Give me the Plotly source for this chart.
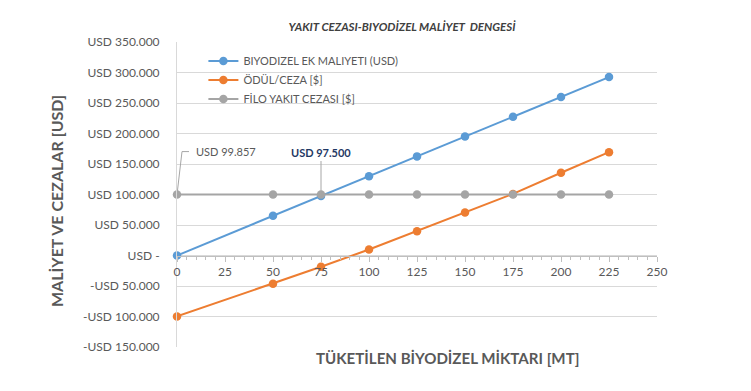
import plotly.graph_objects as go

x_mt = [0, 50, 75, 100, 125, 150, 175, 200, 225]
biyodizel_cost = [0, 65000, 97500, 130000, 162500, 195000, 227500, 260000, 292500]
odul_ceza = [-99857, -46400, -18500, 9800, 39800, 70500, 101000, 135600, 169400]
filo_ceza = [99857] * 9

series_names = ["BIYODIZEL EK MALIYETI (USD)", "ÖDÜL/CEZA [$]", "FİLO YAKIT CEZASI [$]"]
colors = ["#5B9BD5", "#ED7D31", "#A5A5A5"]

y_tickvals = [350000, 300000, 250000, 200000, 150000, 100000, 50000, 0, -50000, -100000, -150000]
y_ticktext = ["USD 350.000", "USD 300.000", "USD 250.000", "USD 200.000", "USD 150.000",
              "USD 100.000", "USD 50.000", "USD -", "-USD 50.000", "-USD 100.000", "-USD 150.000"]
x_tickvals = [0, 25, 50, 75, 100, 125, 150, 175, 200, 225, 250]

FONT = "Lato, 'Open Sans', sans-serif"
GRAY = "#595959"

fig = go.Figure()
for ys, name, c in zip([biyodizel_cost, odul_ceza, filo_ceza], series_names, colors):
    fig.add_trace(go.Scatter(x=x_mt, y=ys, name=name, mode="lines+markers",
                             line=dict(color=c, width=2), cliponaxis=False,
                             marker=dict(color=c, size=8.5)))

ymin, ymax = -150000, 350000
zero_frac = (0 - ymin) / (ymax - ymin)

fig.update_layout(
    width=751, height=391,
    margin=dict(l=177, r=94, t=42, b=44),
    paper_bgcolor="white", plot_bgcolor="white",
    font=dict(family=FONT, color=GRAY, size=12),
    title=dict(text="<b><i>YAKIT CEZASI-BIYODİZEL MALİYET  DENGESİ</i></b>",
               x=402/751, xanchor="center", y=1-27/391, yanchor="middle",
               font=dict(size=11.5, color="#404040", family=FONT)),
    showlegend=True,
    legend=dict(x=0.055, y=0.985, xanchor="left", yanchor="top",
                bgcolor="rgba(0,0,0,0)", font=dict(size=11, color=GRAY, family=FONT),
                tracegroupgap=0, itemwidth=30),
    xaxis=dict(range=[0, 250], tickvals=x_tickvals, anchor="free", position=zero_frac,
               showgrid=False, showline=True, linecolor="#BFBFBF", linewidth=1,
               ticks="outside", ticklen=5, tickcolor="#BFBFBF",
               minor=dict(dtick=5, ticks="outside", ticklen=3, tickcolor="#BFBFBF"),
               tickfont=dict(size=12, color=GRAY), zeroline=False),
    yaxis=dict(range=[ymin, ymax], tickvals=y_tickvals, ticktext=y_ticktext,
               showgrid=True, gridcolor="#D9D9D9", gridwidth=1,
               showline=True, linecolor="#D9D9D9", zeroline=False,
               ticks="", ticklabelstandoff=14,
               tickfont=dict(size=12, color=GRAY)),
)

# axis titles
fig.add_annotation(text="<b>MALİYET VE CEZALAR [USD]</b>", xref="paper", yref="paper",
                   x=(56-177)/480, y=1-(201-42)/305, textangle=-90, showarrow=False,
                   font=dict(size=16, color=GRAY, family=FONT), xanchor="center", yanchor="middle")
fig.add_annotation(text="<b>TÜKETİLEN BİYODİZEL MİKTARI [MT]</b>", xref="paper", yref="paper",
                   x=(447-177)/480, y=1-(358-42)/305, showarrow=False,
                   font=dict(size=15.1, color=GRAY, family=FONT), xanchor="center", yanchor="middle")

# data labels with leader lines
fig.add_annotation(text="USD 99.857", x=x_mt[0], y=filo_ceza[0], xref="x", yref="y",
                   showarrow=False, xanchor="left", yanchor="middle", xshift=17, yshift=43,
                   font=dict(size=11, color=GRAY, family=FONT))
fig.add_shape(type="path", xref="x", yref="y", xsizemode="pixel", ysizemode="pixel",
              xanchor=x_mt[0], yanchor=filo_ceza[0],
              path="M0,0 L5,43 L12,43", line=dict(color="#A6A6A6", width=1))
fig.add_annotation(text="<b>USD 97.500</b>", x=x_mt[2], y=biyodizel_cost[2], xref="x", yref="y",
                   showarrow=False, xanchor="center", yanchor="middle", yshift=44,
                   font=dict(size=11, color="#1F3864", family=FONT))
fig.add_shape(type="path", xref="x", yref="y", xsizemode="pixel", ysizemode="pixel",
              xanchor=x_mt[2], yanchor=biyodizel_cost[2],
              path="M0,0 L0,35", line=dict(color="#A6A6A6", width=1))

fig.write_html("out.html", config={"displayModeBar": False},
               post_script="document.body.style.margin='0px';document.body.style.padding='0px';")
